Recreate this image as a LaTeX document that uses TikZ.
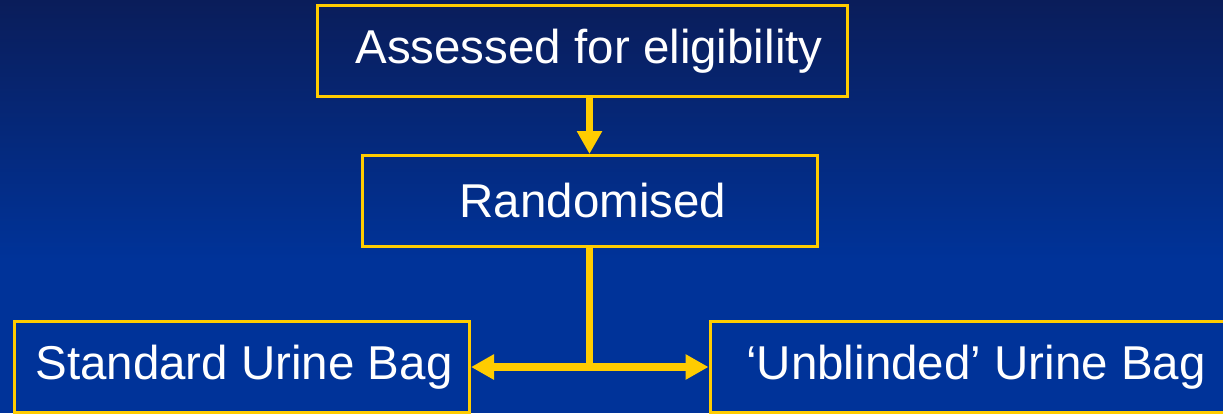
\documentclass[tikz,border=0pt]{standalone}
\usepackage{fontspec}
\setmainfont{Liberation Sans}
\usetikzlibrary{arrows.meta}
\definecolor{bgtop}{HTML}{0A1D5A}
\definecolor{bgbot}{HTML}{003399}
\definecolor{gold}{HTML}{FFCC00}
\tikzset{
  box/.style={draw=gold, line width=3pt, text=white, inner sep=0pt,
    font=\fontsize{47.5}{56}\selectfont, minimum height=91pt},
  conn/.style={draw=gold, line width=7.5pt},
  arr/.style={conn, -{Triangle[length=23pt,width=24pt]}}
}
\begin{document}
\begin{tikzpicture}[x=1pt,y=-1pt]
\useasboundingbox (0,0) rectangle (1223,413);
\shade[top color=bgtop, bottom color=bgbot] (0,0) rectangle (1223,260);
\fill[bgbot] (0,259.5) rectangle (1223,413);
\begin{scope}
\clip (0,0) rectangle (1223,413);
\node[box, minimum width=530pt] (b1) at (582,51) {\hspace*{14pt}Assessed for eligibility};
\node[box, minimum width=455pt] (b2) at (589.5,201) {\hspace*{7pt}Randomised};
\node[box, minimum width=455pt] (b3) at (242,367) {\hspace*{4pt}Standard Urine Bag};
\node[box, minimum width=530pt] (b4) at (975,367) {\hspace*{2pt}‘Unblinded’ Urine Bag};
\end{scope}
\draw[arr] (b1.south -| b2.north) -- (b2.north);
\draw[conn] (b2.south) -- ([yshift=1pt]b2.south |- b3.east);
\draw[arr] (b2.south |- b3.east) -- (b3.east);
\draw[arr] (b2.south |- b4.west) -- (b4.west);
\end{tikzpicture}
\end{document}
